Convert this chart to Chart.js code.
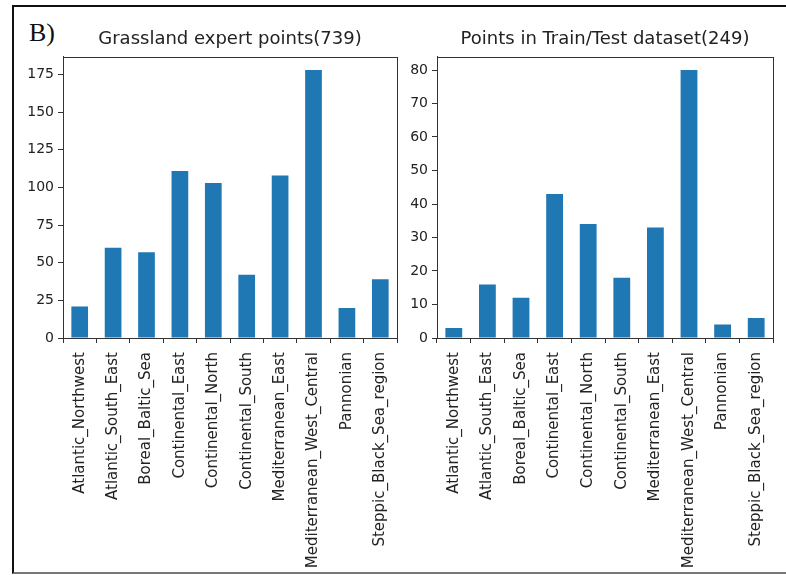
<!DOCTYPE html>
<html><head><meta charset="utf-8">
<script src="https://cdn.jsdelivr.net/npm/chart.js@4"></script>
<style>
html,body{margin:0;padding:0;background:#fff;}
body{width:786px;height:575px;position:relative;overflow:hidden;}
#frame{position:absolute;left:12px;top:5px;width:774px;height:569px;border-left:2px solid #111;border-top:2px solid #111;border-bottom:2px solid #777;box-sizing:border-box;}
#lbl{position:absolute;left:29px;top:18px;font-family:"Liberation Serif","DejaVu Serif",serif;font-size:26px;color:#111;line-height:30px;}
.c{position:absolute;}
</style></head>
<body>
<div id="frame"></div>
<div id="lbl">B)</div>
<div class="c" style="left:14px;top:20px;width:390px;height:550px;"><canvas id="c1" width="390" height="550"></canvas></div>
<div class="c" style="left:404px;top:20px;width:382px;height:550px;"><canvas id="c2" width="382" height="550"></canvas></div>
<script>
const categories = ["Atlantic_Northwest","Atlantic_South_East","Boreal_Baltic_Sea","Continental_East","Continental_North","Continental_South","Mediterranean_East","Mediterranean_West_Central","Pannonian","Steppic_Black_Sea_region"];
const expertPoints = [21,60,57,111,103,42,108,178,20,39];
const trainTestPoints = [3,16,12,43,34,18,33,80,4,6];
const title1 = "Grassland expert points(739)";
const title2 = "Points in Train/Test dataset(249)";
const yTicks1 = [0,25,50,75,100,125,150,175];
const yTicks2 = [0,10,20,30,40,50,60,70,80];

const boxPlugin = {
  id:'box',
  afterDraw(chart){
    const a = chart.chartArea, ctx = chart.ctx;
    ctx.save();
    ctx.strokeStyle = '#333';
    ctx.lineWidth = 1;
    ctx.strokeRect(Math.round(a.left)+0.5, Math.round(a.top)+0.5, Math.round(a.right-a.left), Math.round(a.bottom-a.top));
    ctx.restore();
  }
};

function makeChart(id, data, title, ticks, yWidth, padRight){
  const ymax = Math.max(...data)*1.05;
  return new Chart(document.getElementById(id), {
    type:'bar',
    data:{labels:categories, datasets:[{data:data, backgroundColor:'#1f77b4', borderWidth:0, barPercentage:0.5, categoryPercentage:1.0}]},
    options:{
      responsive:false, animation:false,
      layout:{padding:{top:0,right:padRight,bottom:0,left:0}},
      plugins:{
        legend:{display:false}, tooltip:{enabled:false},
        title:{display:true, text:title, fullSize:false, color:'#222',
          font:{family:'DejaVu Sans', size:18, weight:'normal'}, padding:{top:9,bottom:6}}
      },
      scales:{
        x:{
          grid:{drawOnChartArea:false, drawTicks:true, tickLength:5, color:'#333'},
          border:{display:true, color:'#333'},
          ticks:{maxRotation:90, minRotation:90, autoSkip:false, color:'#222', padding:9,
            font:{family:'DejaVu Sans', size:15}},
          afterFit(s){ s.height = 232; s.paddingLeft = 0; s.paddingRight = 0; }
        },
        y:{
          min:0, max:ymax,
          grid:{drawOnChartArea:false, drawTicks:true, tickLength:5, color:'#333'},
          border:{display:true, color:'#333'},
          afterBuildTicks(s){ s.ticks = ticks.map(v=>({value:v})); },
          ticks:{color:'#222', padding:4, includeBounds:false, font:{family:'DejaVu Sans', size:14}},
          afterFit(s){ s.width = yWidth; s.paddingTop = 0; s.paddingBottom = 0; }
        }
      }
    },
    plugins:[boxPlugin]
  });
}
makeChart('c1', expertPoints, title1, yTicks1, 49, 7);
makeChart('c2', trainTestPoints, title2, yTicks2, 33, 13);
</script>
</body></html>
